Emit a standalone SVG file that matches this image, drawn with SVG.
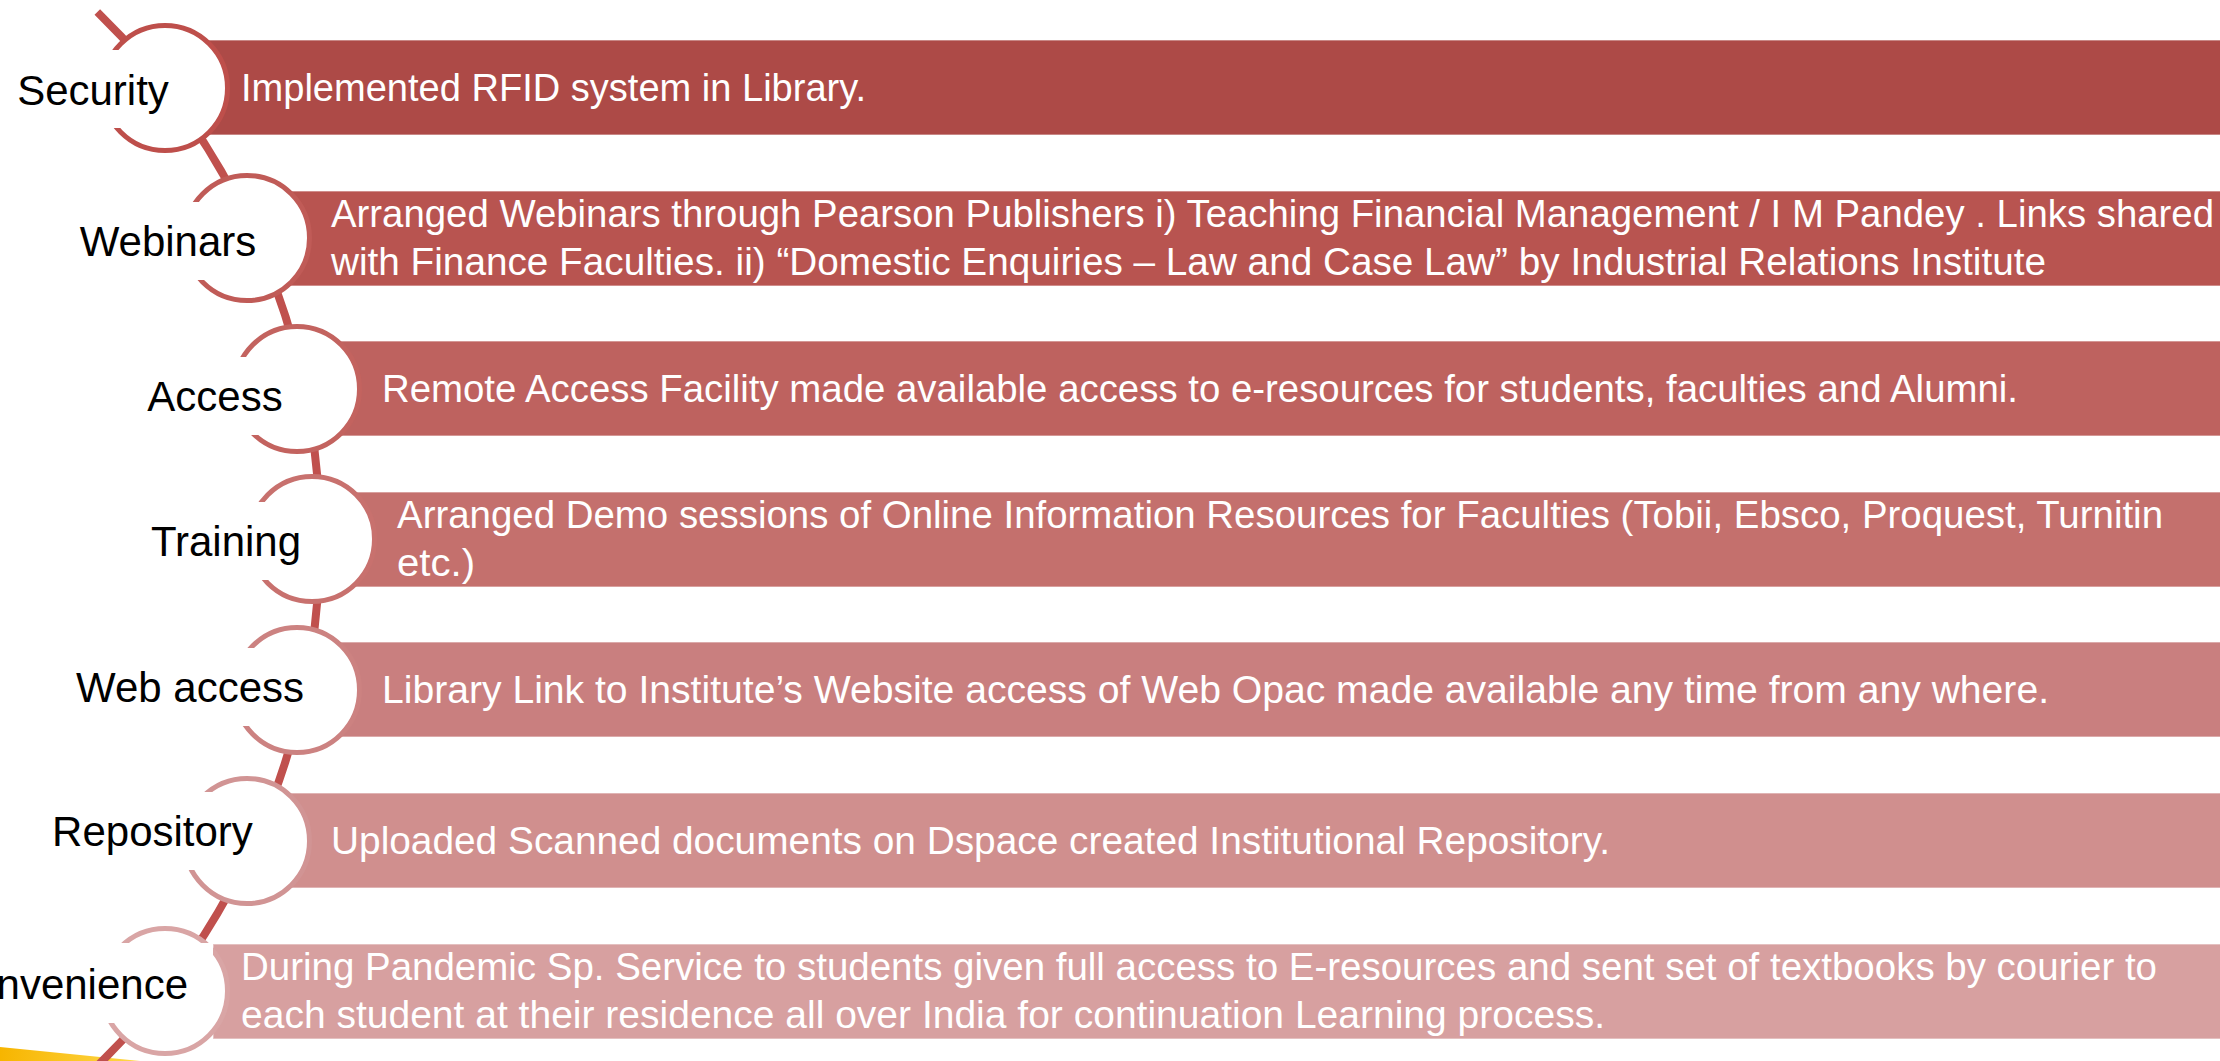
<svg xmlns="http://www.w3.org/2000/svg" width="2220" height="1061" viewBox="0 0 2220 1061">
<defs>
<style>
.bar{stroke:#ffffff;stroke-opacity:0.45;stroke-width:1.5}
.circ{fill:#ffffff;stroke-width:5}
.lblbox{fill:#ffffff}
.lbl{font-family:"Liberation Sans",Arial,sans-serif;font-size:42px;fill:#000000}
.txt{font-family:"Liberation Sans",Arial,sans-serif;font-size:38px;fill:#ffffff}
.conn{fill:none;stroke:#C0504D;stroke-width:8}
</style>
<linearGradient id="gold" x1="0" y1="0" x2="1" y2="0">
<stop offset="0" stop-color="#F7B500"/>
<stop offset="1" stop-color="#FFD84A"/>
</linearGradient>
</defs>
<rect x="0" y="0" width="2220" height="1061" fill="#ffffff"/>
<polygon points="0,1047 140,1061 0,1061" fill="url(#gold)"/>
<g id="connectors">
<path class="conn" d="M 97.3 12 A 735 735 0 0 1 93 1070"/>
</g>
<g id="node-security">
<rect class="bar" x="165" y="40" width="2070" height="95" fill="#AD4A47"/>
<circle class="circ" cx="165" cy="88" r="62.5" stroke="#BE4F4B"/>
<rect class="lblbox" x="-10" y="50" width="190" height="78"/>
<text class="lbl" x="93" y="105" text-anchor="middle">Security</text>
<text class="txt" x="241" y="101" textLength="625" lengthAdjust="spacingAndGlyphs">Implemented RFID system in Library.</text>
</g>
<g id="node-webinars">
<rect class="bar" x="247" y="191" width="1990" height="95" fill="#B85450"/>
<circle class="circ" cx="247" cy="238" r="62.5" stroke="#C05B57"/>
<rect class="lblbox" x="40" y="202" width="222" height="78"/>
<text class="lbl" x="168" y="256" text-anchor="middle">Webinars</text>
<text class="txt" x="331" y="227" textLength="1883" lengthAdjust="spacingAndGlyphs">Arranged Webinars through Pearson Publishers i) Teaching Financial Management / I M Pandey . Links shared</text>
<text class="txt" x="331" y="275" textLength="1715" lengthAdjust="spacingAndGlyphs">with Finance Faculties. ii) “Domestic Enquiries – Law and Case Law” by Industrial Relations Institute</text>
</g>
<g id="node-access">
<rect class="bar" x="297" y="341" width="1940" height="95" fill="#BE625F"/>
<circle class="circ" cx="297" cy="389" r="62.5" stroke="#C3635F"/>
<rect class="lblbox" x="100" y="357" width="212" height="78"/>
<text class="lbl" x="215" y="411" text-anchor="middle">Access</text>
<text class="txt" x="382" y="402" textLength="1636" lengthAdjust="spacingAndGlyphs">Remote Access Facility made available access to e-resources for students, faculties and Alumni.</text>
</g>
<g id="node-training">
<rect class="bar" x="312" y="492" width="1925" height="95" fill="#C4706D"/>
<circle class="circ" cx="312" cy="539" r="62.5" stroke="#C8716E"/>
<rect class="lblbox" x="120" y="502" width="207" height="78"/>
<text class="lbl" x="226" y="556" text-anchor="middle">Training</text>
<text class="txt" x="397" y="528" textLength="1766" lengthAdjust="spacingAndGlyphs">Arranged Demo sessions of Online Information Resources for Faculties (Tobii, Ebsco, Proquest, Turnitin</text>
<text class="txt" x="397" y="576" textLength="78" lengthAdjust="spacingAndGlyphs">etc.)</text>
</g>
<g id="node-web-access">
<rect class="bar" x="297" y="642" width="1940" height="95" fill="#C97F7F"/>
<circle class="circ" cx="297" cy="690" r="62.5" stroke="#CC8281"/>
<rect class="lblbox" x="60" y="648" width="252" height="78"/>
<text class="lbl" x="190" y="702" text-anchor="middle">Web access</text>
<text class="txt" x="382" y="703" textLength="1667" lengthAdjust="spacingAndGlyphs">Library Link to Institute’s Website access of Web Opac made available any time from any where.</text>
</g>
<g id="node-repository">
<rect class="bar" x="247" y="793" width="1990" height="95" fill="#D08F8E"/>
<circle class="circ" cx="247" cy="841" r="62.5" stroke="#D19494"/>
<rect class="lblbox" x="30" y="792" width="232" height="78"/>
<text class="lbl" x="152.5" y="846" text-anchor="middle">Repository</text>
<text class="txt" x="331" y="854" textLength="1279" lengthAdjust="spacingAndGlyphs">Uploaded Scanned documents on Dspace created Institutional Repository.</text>
</g>
<g id="node-convenience">
<rect class="bar" x="213" y="944" width="2024" height="95" fill="#D7A0A0"/>
<circle class="circ" cx="165" cy="991" r="62.5" stroke="#D9A5A5"/>
<rect class="lblbox" x="-20" y="943" width="233" height="80"/>
<text class="lbl" x="188" y="999" text-anchor="end">Convenience</text>
<text class="txt" x="241" y="980" textLength="1916" lengthAdjust="spacingAndGlyphs">During Pandemic Sp. Service to students given full access to E-resources and sent set of textbooks by courier to</text>
<text class="txt" x="241" y="1028" textLength="1364" lengthAdjust="spacingAndGlyphs">each student at their residence all over India for continuation Learning process.</text>
</g>
</svg>
